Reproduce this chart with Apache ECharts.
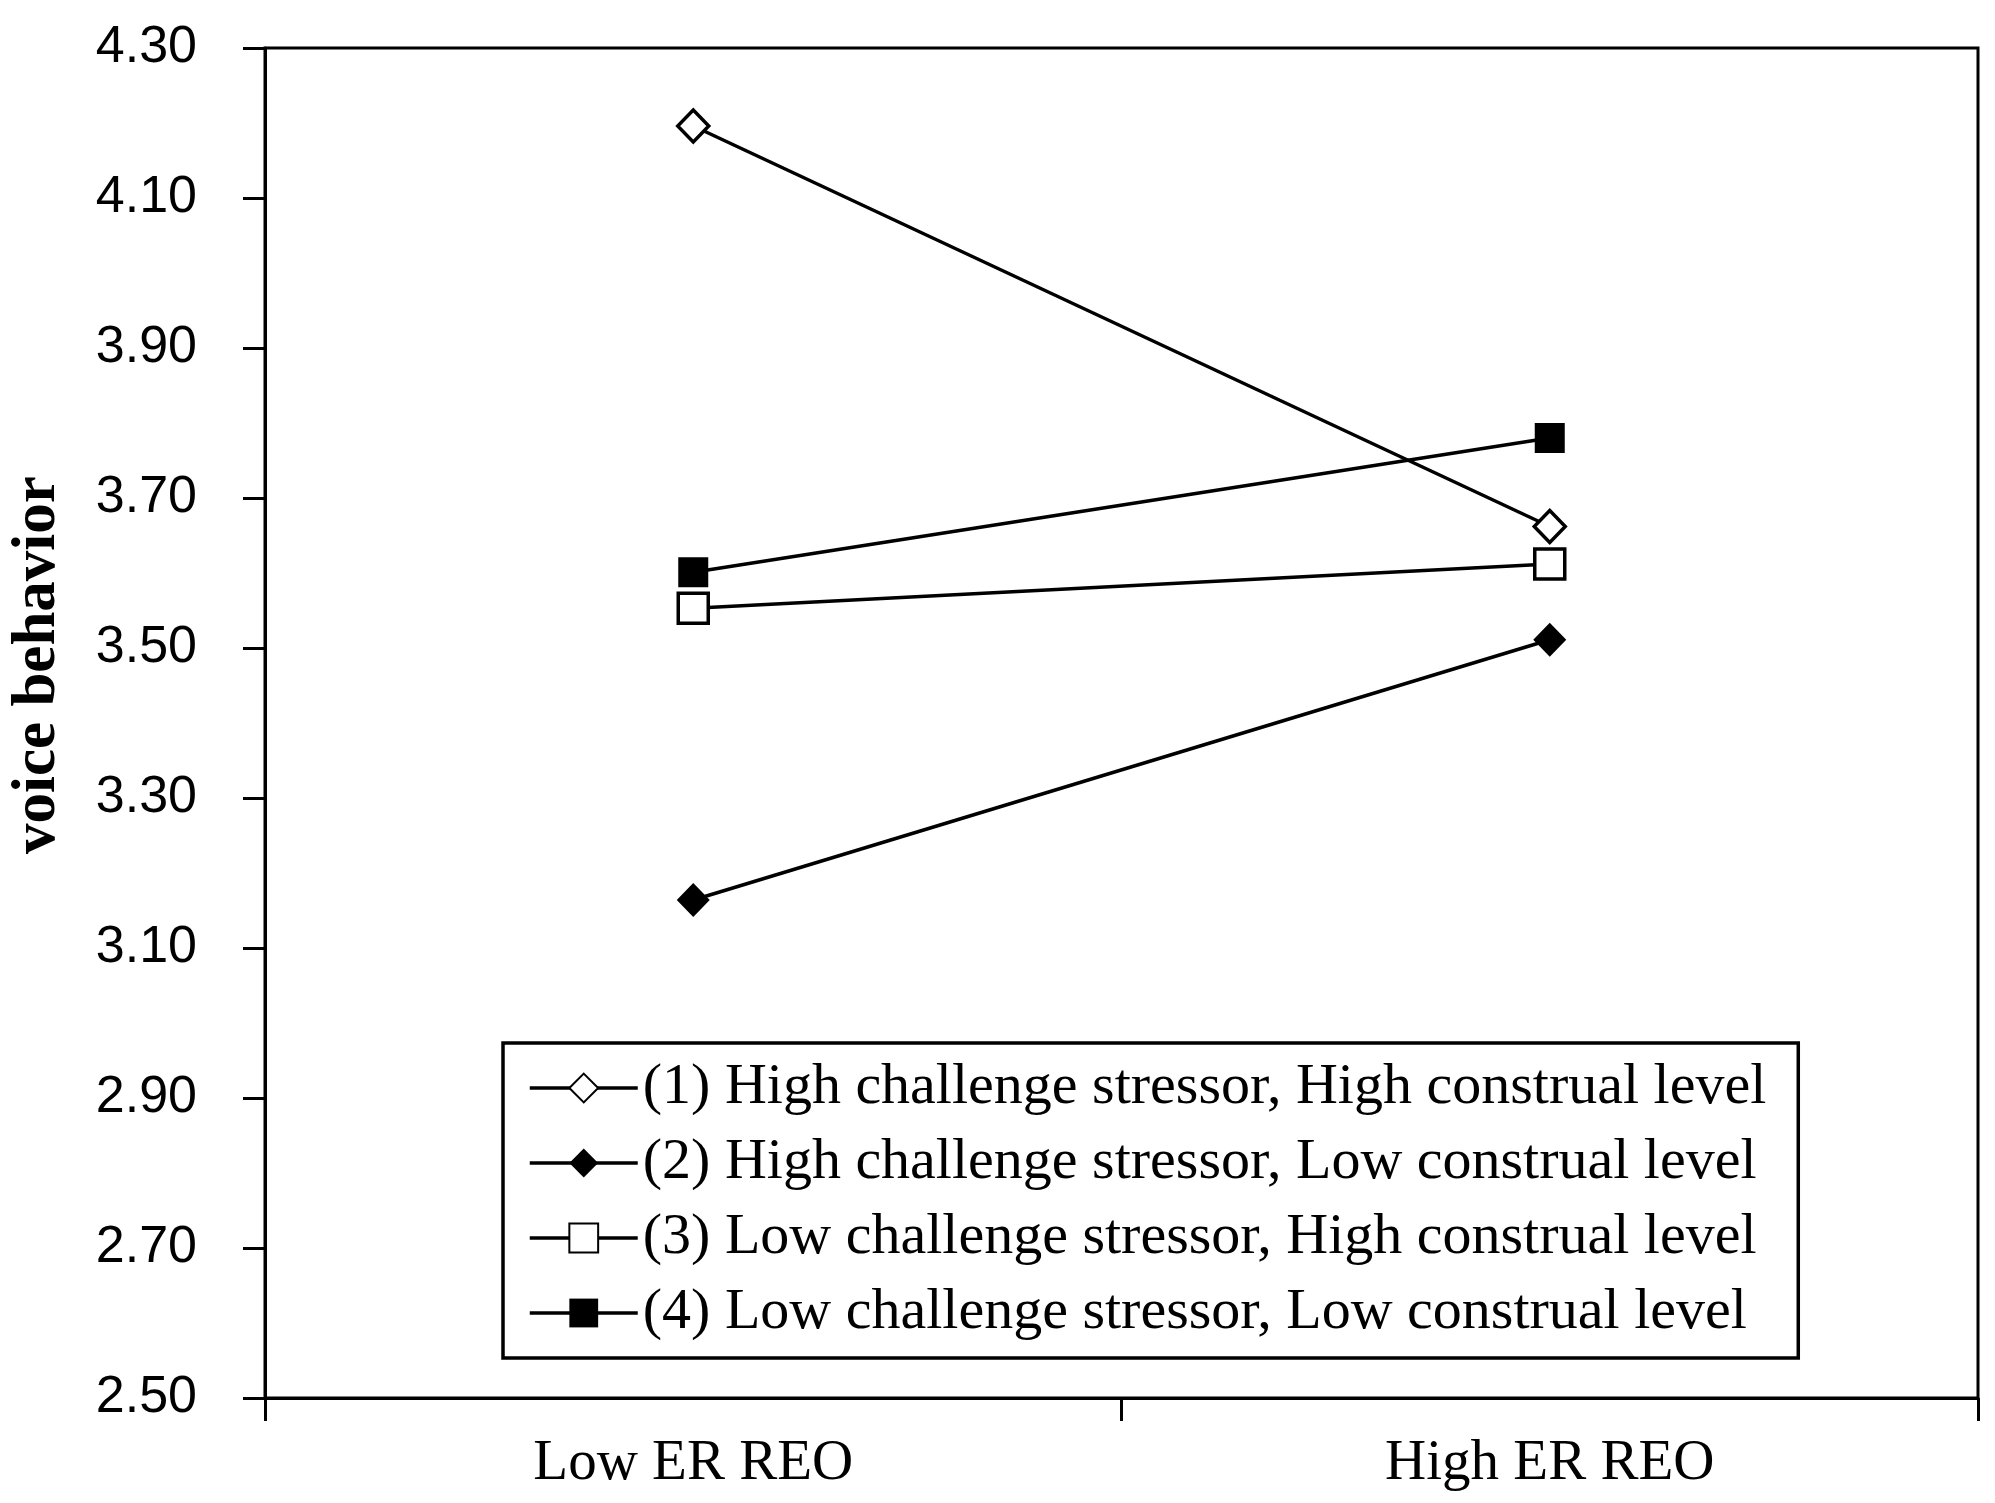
<!DOCTYPE html>
<html>
<head>
<meta charset="utf-8">
<script src="https://cdn.jsdelivr.net/npm/echarts@6/dist/echarts.min.js"></script>
<style>
html,body{margin:0;padding:0;background:#fff;}
#chart{width:1995px;height:1503px;}
</style>
</head>
<body>
<div id="chart"></div>
<script>
var categories = ['Low ER REO', 'High ER REO'];
var seriesNames = [
  '(1) High challenge stressor, High construal level',
  '(2) High challenge stressor, Low construal level',
  '(3) Low challenge stressor, High construal level',
  '(4) Low challenge stressor, Low construal level'
];
var s1 = [4.196, 3.662];
var s2 = [3.164, 3.511];
var s3 = [3.553, 3.612];
var s4 = [3.601, 3.780];
var yTicks = { min: 2.5, max: 4.3, interval: 0.2 };

var serif = '"Liberation Serif", "Times New Roman", serif';
var sans = '"Liberation Sans", Arial, sans-serif';

function mk(name, data, symbol, size, fill) {
  return {
    name: name,
    type: 'line',
    data: data,
    symbol: symbol,
    symbolSize: size,
    showAllSymbol: true,
    lineStyle: { color: '#000', width: 3.5 },
    itemStyle: { color: fill, borderColor: '#000', borderWidth: fill === '#fff' ? 3.5 : 0 },
    emphasis: { disabled: true },
    z: 3
  };
}

var chart = echarts.init(document.getElementById('chart'));
chart.setOption({
  backgroundColor: '#fff',
  animation: false,
  grid: {
    left: 260, right: 17, top: 48, bottom: 105,
    show: true, borderColor: '#000', borderWidth: 3, backgroundColor: 'transparent'
  },
  legend: {
    left: 503, top: 1043,
    orient: 'vertical',
    data: seriesNames,
    itemWidth: 108, itemHeight: 36,
    itemGap: 17,
    padding: [16, 32, 16, 25],
    borderColor: '#000', borderWidth: 3.5,
    backgroundColor: '#fff',
    lineStyle: { width: 3.5 },
    textStyle: { fontFamily: serif, fontSize: 58, color: '#000', lineHeight: 58 },
    selectedMode: false
  },
  xAxis: {
    type: 'category',
    data: categories,
    boundaryGap: true,
    axisLine: { lineStyle: { color: '#000', width: 3 } },
    axisTick: { show: true, length: 23, lineStyle: { color: '#000', width: 3 } },
    axisLabel: { fontFamily: serif, fontSize: 57, color: '#000', margin: 38 }
  },
  yAxis: {
    type: 'value',
    min: yTicks.min, max: yTicks.max, interval: yTicks.interval,
    name: 'voice behavior',
    nameLocation: 'middle',
    nameRotate: 90,
    nameGap: 196,
    nameTextStyle: { fontFamily: serif, fontSize: 61, fontWeight: 'bold', color: '#000', padding: [0, 0, 0, 116] },
    splitLine: { show: false },
    axisLine: { show: true, lineStyle: { color: '#000', width: 3 } },
    axisTick: { show: true, length: 22, lineStyle: { color: '#000', width: 3 } },
    axisLabel: {
      fontFamily: sans, fontSize: 52, color: '#000', margin: 68,
      formatter: function (v) { return v.toFixed(2); }
    }
  },
  series: [
    mk(seriesNames[0], s1, 'diamond', [31, 32], '#fff'),
    mk(seriesNames[1], s2, 'diamond', [33, 34], '#000'),
    mk(seriesNames[2], s3, 'rect', [30, 30], '#fff'),
    mk(seriesNames[3], s4, 'rect', [30, 30], '#000')
  ]
});
</script>
</body>
</html>
